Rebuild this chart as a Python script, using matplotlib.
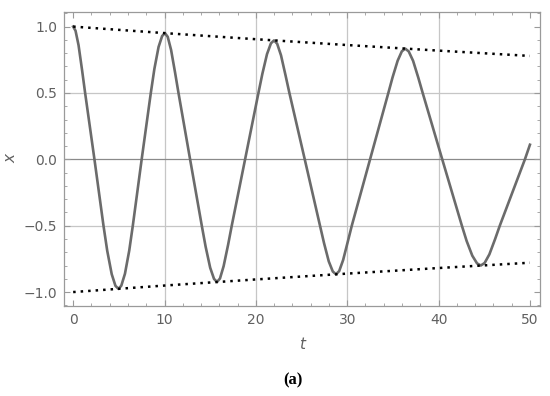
import numpy as np
from matplotlib import pyplot as plt
from matplotlib.ticker import MultipleLocator

# curve x(t): extrema, rounded caps, +-0.5 and zero crossings
t = [0.0, 0.26, 0.59, 0.98, 1.31, 2.33,
     3.32, 3.73, 4.22, 4.63, 4.96, 5.27, 5.67, 6.14, 6.53, 7.5,
     8.5, 8.89, 9.35, 9.74, 10.05, 10.35, 10.72, 11.16, 11.53, 12.8,
     14.08, 14.5, 15.0, 15.42, 15.75, 16.07, 16.47, 16.96, 17.36, 18.82,
     20.28, 20.71, 21.22, 21.65, 21.99, 22.33, 22.75, 23.25, 23.67, 25.35,
     27.02, 27.46, 27.98, 28.42, 28.77, 29.12, 29.55, 30.07, 30.5, 32.5,
     34.5, 34.96, 35.52, 35.98, 36.35, 36.73, 37.21, 37.78, 38.26, 40.4,
     42.55, 43.07, 43.69, 44.21, 44.62, 45.04, 45.56, 46.18, 46.7, 49.45, 50.0]
x = [1.0, 0.969, 0.860, 0.670, 0.5, 0.0,
     -0.5, -0.689, -0.865, -0.953, -0.976, -0.952, -0.862, -0.687, -0.5, 0.0,
     0.5, 0.681, 0.847, 0.929, 0.951, 0.923, 0.824, 0.652, 0.5, 0.0,
     -0.5, -0.658, -0.817, -0.901, -0.924, -0.898, -0.805, -0.644, -0.5, 0.0,
     0.5, 0.644, 0.793, 0.874, 0.896, 0.871, 0.784, 0.632, 0.5, 0.0,
     -0.5, -0.631, -0.769, -0.845, -0.866, -0.842, -0.759, -0.618, -0.5, 0.0,
     0.5, 0.617, 0.743, 0.814, 0.834, 0.813, 0.742, 0.615, 0.5, 0.0,
     -0.5, -0.615, -0.726, -0.784, -0.800, -0.781, -0.716, -0.602, -0.5, 0.0, 0.11]

# envelope (dotted)
t_env = [0, 10, 20, 30, 40, 50]
env = [1.0, 0.951, 0.905, 0.861, 0.819, 0.779]

fig = plt.figure(figsize=(5.5, 3.96), dpi=100)
ax = fig.add_axes([0.1164, 0.2273, 0.8654, 0.7424])

grid_c = '#c6c6c6'
for g in [10, 20, 30, 40]:
    ax.axvline(g, color=grid_c, lw=0.9, zorder=0)
for g in [-0.5, 0.5]:
    ax.axhline(g, color=grid_c, lw=0.9, zorder=0)
ax.axhline(0, color='#8a8a8a', lw=0.9, zorder=0)

ax.plot(t, x, color='#6b6b6b', lw=1.9, solid_joinstyle='round', zorder=2)
ax.plot(t_env, env, color='black', lw=1.8, ls=(0, (1, 2)), zorder=3)
ax.plot(t_env, [-v for v in env], color='black', lw=1.8, ls=(0, (1, 2)), zorder=3)

ax.set_xlim(-1.0, 51.1)
ax.set_ylim(-1.105, 1.11)
ax.xaxis.set_major_locator(MultipleLocator(10))
ax.xaxis.set_minor_locator(MultipleLocator(2))
ax.yaxis.set_major_locator(MultipleLocator(0.5))
ax.yaxis.set_minor_locator(MultipleLocator(0.1))
ax.tick_params(which='both', direction='in', top=True, right=True,
               color='#9a9a9a', labelcolor='#606060', labelsize=10, pad=5)
ax.tick_params(which='major', length=4, width=0.8)
ax.tick_params(which='minor', length=2.3, width=0.6)
ax.set_yticks([-1.0, -0.5, 0.0, 0.5, 1.0])
ax.set_yticklabels(['\u22121.0', '\u22120.5', '0.0', '0.5', '1.0'])
for s in ax.spines.values():
    s.set_color('#9a9a9a')
    s.set_linewidth(0.9)

ax.set_xlabel('t', style='italic', color='#606060', fontsize=11)
ax.set_ylabel('x', style='italic', color='#606060', fontsize=11)
ax.xaxis.set_label_coords(0.5, -0.105)
ax.yaxis.set_label_coords(-0.096, 0.5)

fig.text(0.533, 0.04, '(a)', fontsize=12, fontweight='bold',
         family='Liberation Serif', ha='center', va='center')

fig.savefig('out.png', dpi=100)
